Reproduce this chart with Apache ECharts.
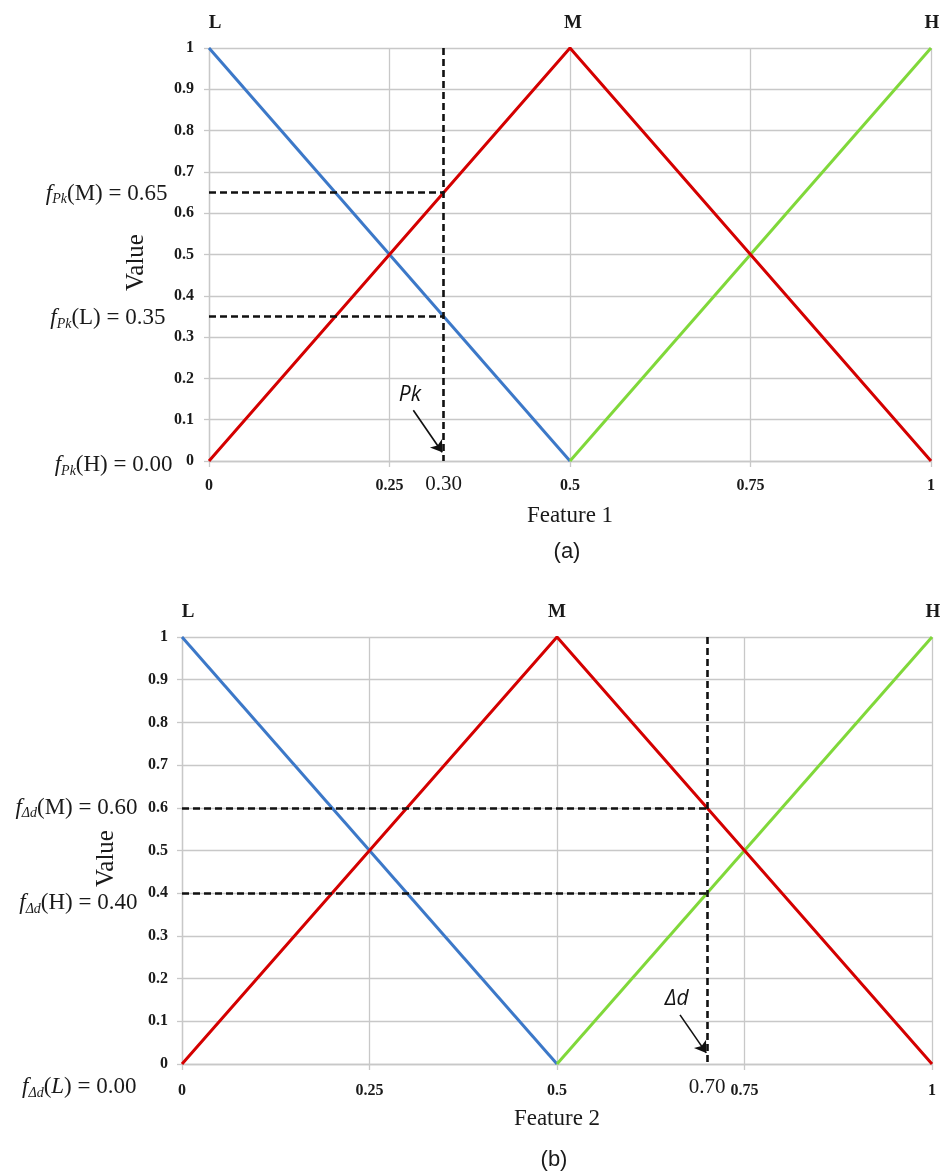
<!DOCTYPE html>
<html>
<head>
<meta charset="utf-8">
<script src="https://cdn.jsdelivr.net/npm/echarts@6/dist/echarts.min.js"></script>
<style>
html, body { margin: 0; padding: 0; background: #fff; }
#chart { width: 941px; height: 1175px; }
</style>
</head>
<body>
<div id="chart"></div>
<script>
// membership functions, same in both panels
const lowX = [0, 0.5];
const lowY = [1, 0];
const medX = [0, 0.5, 1];
const medY = [0, 1, 0];
const highX = [0.5, 1];
const highY = [0, 1];
const setNames = ['L', 'M', 'H'];

// per panel
const panelNames = ['(a)', '(b)'];
const featureNames = ['Feature 1', 'Feature 2'];
const crispX = [0.325, 0.70];
const crispLabels = ['0.30', '0.70'];
const subNames = ['Pk', 'Δd'];
const degreeSets = [['M', 'L', 'H'], ['M', 'H', 'L']];
const degreeVals = [[0.65, 0.35, 0.00], [0.60, 0.40, 0.00]];
// pointer arrow, data units
const arrowFrom = [[0.283, 0.123], [0.664, 0.115]];
const arrowTo = [[0.323, 0.021], [0.699, 0.026]];

const serif = '"Liberation Serif", "DejaVu Serif", serif';
const sans = '"Liberation Sans", Arial, sans-serif';
const txt = '#1a1a1a';
const gridColor = '#c8c8c8';

// layout only (pixels)
const layout = [
  { left: 209, top: 48, width: 722, height: 413, yMargin: 15, xMargin: 17, valueGap: 60,
    setOff: [[6, 0], [3, 0], [1, 0]], degDist: [41, 43, 36], degDy: [1, 2, 4], capTop: 536 },
  { left: 182, top: 637, width: 750, height: 427, yMargin: 14, xMargin: 19, valueGap: 63,
    setOff: [[6, 0], [0, 0], [1, 0]], degDist: [44, 44, 45], degDy: [0, 10, 23], capTop: 1144 }
];

function pts(xs, ys) {
  return xs.map((x, k) => [x, ys[k]]);
}

const grids = [], xAxes = [], yAxes = [], series = [], titles = [];

layout.forEach((L, i) => {
  grids.push({ left: L.left, top: L.top, width: L.width, height: L.height });
  xAxes.push({
    type: 'value', gridIndex: i, min: 0, max: 1, interval: 0.25,
    name: featureNames[i], nameLocation: 'middle', nameGap: 43,
    nameTextStyle: { fontFamily: serif, fontSize: 23, color: txt },
    axisLine: { show: true, lineStyle: { color: gridColor, width: 1.3 } },
    axisTick: { show: true, length: 6, lineStyle: { color: gridColor, width: 1.3 } },
    axisLabel: { margin: L.xMargin, fontFamily: serif, fontWeight: 'bold', fontSize: 16, color: txt },
    splitLine: { show: true, lineStyle: { color: gridColor, width: 1.3 } }
  });
  yAxes.push({
    type: 'value', gridIndex: i, min: 0, max: 1, interval: 0.1,
    name: 'Value', nameLocation: 'middle', nameGap: L.valueGap, nameRotate: 90,
    nameTextStyle: { fontFamily: serif, fontSize: 25, color: txt, padding: [0, 16, 0, 0] },
    axisLine: { show: true, lineStyle: { color: gridColor, width: 1.3 } },
    axisTick: { show: true, length: 5, lineStyle: { color: gridColor, width: 1.3 } },
    axisLabel: { margin: L.yMargin, fontFamily: serif, fontWeight: 'bold', fontSize: 16, color: txt },
    splitLine: { show: true, lineStyle: { color: gridColor, width: 1.3 } }
  });

  const base = { type: 'line', xAxisIndex: i, yAxisIndex: i, symbol: 'none', animation: false, silent: true };
  series.push(Object.assign({}, base, { name: 'L', data: pts(lowX, lowY), z: 3,
    lineStyle: { color: '#3C78C8', width: 3 } }));
  series.push(Object.assign({}, base, { name: 'H', data: pts(highX, highY), z: 3,
    lineStyle: { color: '#80D83A', width: 3 } }));
  series.push(Object.assign({}, base, { name: 'M', data: pts(medX, medY), z: 4,
    lineStyle: { color: '#D40000', width: 3 } }));

  // peaks of each set get their name on top
  const peaks = [[lowX[0], lowY[0]], [medX[1], medY[1]], [highX[1], highY[1]]];
  const marks = peaks.map((p, k) => ({
    coord: p,
    label: { show: true, formatter: setNames[k], position: 'top', distance: 15, offset: L.setOff[k],
      fontFamily: serif, fontWeight: 'bold', fontSize: 19, color: txt }
  }));

  // left-hand readings f_x(S) = v
  degreeSets[i].forEach((s, k) => {
    const v = degreeVals[i][k];
    const setStyle = (i === 1 && k === 2) ? 'ni' : 'n';
    marks.push({
      coord: [0, v],
      label: {
        show: true, position: 'left', distance: L.degDist[k], offset: [0, L.degDy[k]],
        formatter: '{f|f}{s|' + subNames[i] + '}{n|(}{' + setStyle + '|' + s + '}{n|) = ' + v.toFixed(2) + '}',
        rich: {
          f: { fontFamily: serif, fontStyle: 'italic', fontSize: 23, color: txt, lineHeight: 26 },
          s: { fontFamily: serif, fontStyle: 'italic', fontSize: 14, color: txt, lineHeight: 14, verticalAlign: 'bottom' },
          n: { fontFamily: serif, fontSize: 23, color: txt, lineHeight: 26 },
          ni: { fontFamily: serif, fontStyle: 'italic', fontSize: 23, color: txt, lineHeight: 26 }
        }
      }
    });
  });

  const cx = crispX[i];
  const lines = [
    [{ coord: [cx, 1] }, { coord: [cx, 0], label: { show: true, position: 'end', distance: 13,
      formatter: crispLabels[i], fontFamily: serif, fontSize: 21, color: txt } }]
  ];
  degreeVals[i].forEach(v => {
    if (v > 0) lines.push([{ coord: [0, v] }, { coord: [cx, v] }]);
  });
  lines.push([
    { coord: arrowFrom[i], symbol: 'none' },
    { coord: arrowTo[i], symbol: 'arrow', symbolSize: 11,
      lineStyle: { type: 'solid', width: 1.6, color: '#111' },
      label: { show: true, position: 'start', distance: 6, formatter: subNames[i],
        fontFamily: '"Open Sans", "Noto Sans", sans-serif', fontStyle: 'italic', fontSize: 21, color: '#111' } }
  ]);

  series.push(Object.assign({}, base, {
    name: 'marks' + i, data: [], z: 6,
    markLine: {
      silent: true, animation: false, symbol: ['none', 'none'],
      label: { show: false },
      lineStyle: { color: '#111', type: [7, 4], width: 2.6 },
      data: lines
    },
    markPoint: {
      silent: true, animation: false, symbol: 'circle', symbolSize: 1,
      itemStyle: { color: 'rgba(0,0,0,0)' },
      data: marks
    }
  }));

  titles.push({
    text: panelNames[i], left: L.left + L.width / 2 - 8, top: L.capTop, textAlign: 'center',
    textStyle: { fontFamily: sans, fontWeight: 'normal', fontSize: 22, color: txt }
  });
});

const chart = echarts.init(document.getElementById('chart'));
chart.setOption({
  backgroundColor: '#fff',
  animation: false,
  title: titles,
  grid: grids,
  xAxis: xAxes,
  yAxis: yAxes,
  series: series
});
</script>
</body>
</html>
